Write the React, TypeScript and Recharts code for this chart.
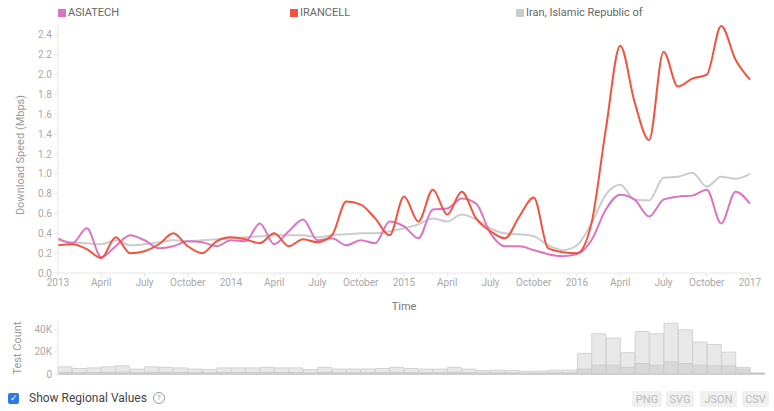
import React from 'react';
import { LineChart, Line, XAxis, YAxis, BarChart, Bar } from 'recharts';

// Month index 0 = January 2013 ... 48 = January 2017
const TICK_MONTHS = [0, 3, 6, 9, 12, 15, 18, 21, 24, 27, 30, 33, 36, 39, 42, 45, 48];
const TICK_LABELS = ['2013', 'April', 'July', 'October', '2014', 'April', 'July', 'October', '2015', 'April', 'July', 'October', '2016', 'April', 'July', 'October', '2017'];
const Y_TICKS = [0, 0.2, 0.4, 0.6, 0.8, 1.0, 1.2, 1.4, 1.6, 1.8, 2.0, 2.2, 2.4];
const COUNT_TICKS = [0, 20000, 40000];

const ASIATECH = [0.35, 0.30, 0.45, 0.16, 0.27, 0.38, 0.33, 0.25, 0.27, 0.32, 0.31, 0.27,
  0.33, 0.32, 0.50, 0.29, 0.42, 0.54, 0.33, 0.35, 0.28, 0.33, 0.30, 0.52,
  0.47, 0.35, 0.64, 0.65, 0.75, 0.70, 0.40, 0.27, 0.27, 0.23, 0.19, 0.17,
  0.19, 0.33, 0.64, 0.79, 0.74, 0.57, 0.74, 0.77, 0.78, 0.84, 0.50, 0.82, 0.70];

const IRANCELL = [0.28, 0.29, 0.24, 0.15, 0.36, 0.20, 0.22, 0.29, 0.40, 0.27, 0.20, 0.32,
  0.36, 0.34, 0.30, 0.40, 0.27, 0.34, 0.31, 0.38, 0.72, 0.69, 0.55, 0.38,
  0.77, 0.52, 0.84, 0.59, 0.82, 0.55, 0.42, 0.35, 0.57, 0.76, 0.25, 0.21,
  0.20, 0.50, 1.45, 2.29, 1.72, 1.34, 2.23, 1.88, 1.96, 2.00, 2.49, 2.15, 1.95];

const IRAN = [0.33, 0.31, 0.30, 0.29, 0.33, 0.28, 0.29, 0.31, 0.33, 0.32, 0.33, 0.34,
  0.35, 0.36, 0.37, 0.38, 0.38, 0.38, 0.36, 0.38, 0.39, 0.40, 0.40, 0.42,
  0.45, 0.49, 0.55, 0.52, 0.59, 0.54, 0.45, 0.40, 0.39, 0.37, 0.28, 0.23,
  0.28, 0.50, 0.79, 0.89, 0.74, 0.73, 0.96, 0.97, 1.01, 0.87, 0.97, 0.95, 1.00];

const TEST_TOTAL = [6500, 5000, 5500, 6500, 7400, 4400, 6500, 6000, 5500, 4500, 4000, 5500,
  5500, 5500, 6000, 5500, 5500, 4000, 6000, 4500, 4500, 4500, 5000, 6000,
  5000, 4400, 4400, 6000, 4400, 3000, 3500, 3000, 2500, 2500, 3500, 3500,
  18700, 36400, 32600, 19300, 38500, 36400, 46000, 40000, 29000, 26700, 19800, 6000, 1000];

const TEST_ISP = [1500, 1300, 1400, 1500, 1700, 1200, 1500, 1500, 1400, 1200, 1100, 1400,
  1400, 1400, 1500, 1400, 1400, 1100, 1500, 1200, 1200, 1200, 1300, 1500,
  1300, 1200, 1200, 1500, 1200, 900, 1000, 900, 800, 800, 1000, 1000,
  4400, 8000, 8000, 6000, 9500, 8000, 11000, 9500, 8000, 7400, 7400, 4400, 500];

const PINK = '#dc74c4';
const RED = '#f2533f';
const GRAY = '#cccccc';

const lineData = ASIATECH.map((v, i) => ({ m: i, asiatech: v, irancell: IRANCELL[i], iran: IRAN[i] }));
const barData = TEST_TOTAL.map((v, i) => ({ m: i + 0.5, total: v, isp: TEST_ISP[i] }));

const FONT = 'Roboto, "Liberation Sans", Arial, sans-serif';
const tickStyle = { fontSize: 10, fill: '#a8a8a8', fontFamily: FONT };

const legendItems = [
  { label: 'ASIATECH', color: PINK, x: 58 },
  { label: 'IRANCELL', color: RED, x: 290 },
  { label: 'Iran, Islamic Republic of', color: GRAY, x: 516 },
];

const buttons = [
  { label: 'PNG', x: 632, w: 30 },
  { label: 'SVG', x: 666, w: 28 },
  { label: 'JSON', x: 700, w: 37 },
  { label: 'CSV', x: 742, w: 27 },
];

export default function App() {
  return (
    <div style={{ position: 'absolute', left: 0, top: 0, width: 774, height: 411, background: '#fff', fontFamily: FONT, overflow: 'hidden' }}>
      {legendItems.map((it) => (
        <div key={it.label} style={{ position: 'absolute', left: it.x, top: 6, display: 'flex', alignItems: 'center', fontSize: 11, color: '#666', whiteSpace: 'nowrap' }}>
          <span style={{ display: 'inline-block', width: 8, height: 8, background: it.color, marginRight: 2 }} />
          <span>{it.label}</span>
        </div>
      ))}

      <div style={{ position: 'absolute', left: 20, top: 155, transform: 'translate(-50%, -50%) rotate(-90deg)', fontSize: 11, color: '#999', whiteSpace: 'nowrap' }}>
        Download Speed (Mbps)
      </div>

      <div style={{ position: 'absolute', left: 0, top: 0 }}>
        <LineChart width={774} height={315} data={lineData} margin={{ top: 25, right: 24, left: 18, bottom: 0 }}>
          <XAxis
            dataKey="m"
            type="number"
            domain={[0, 48]}
            ticks={TICK_MONTHS}
            interval={0}
            tickFormatter={(v: number) => TICK_LABELS[TICK_MONTHS.indexOf(v)]}
            tick={tickStyle}
            tickSize={4}
            axisLine={{ stroke: '#e6e6e6' }}
            tickLine={{ stroke: '#e6e6e6' }}
            height={42}
            label={{ value: 'Time', position: 'insideBottom', offset: 5, style: { fontSize: 11, fill: '#777', fontFamily: FONT } }}
          />
          <YAxis
            type="number"
            domain={[0, 2.5]}
            ticks={Y_TICKS}
            interval={0}
            tickFormatter={(v: number) => v.toFixed(1)}
            tick={tickStyle}
            tickSize={4}
            axisLine={{ stroke: '#e6e6e6' }}
            tickLine={{ stroke: '#e6e6e6' }}
            width={40}
          />
          <Line type="monotone" dataKey="iran" stroke={GRAY} strokeWidth={2} dot={false} isAnimationActive={false} />
          <Line type="monotone" dataKey="asiatech" stroke={PINK} strokeWidth={2} dot={false} isAnimationActive={false} />
          <Line type="monotone" dataKey="irancell" stroke={RED} strokeWidth={2} dot={false} isAnimationActive={false} />
        </LineChart>
      </div>

      <div style={{ position: 'absolute', left: 17, top: 348, transform: 'translate(-50%, -50%) rotate(-90deg)', fontSize: 11, color: '#999', whiteSpace: 'nowrap' }}>
        Test Count
      </div>

      <div style={{ position: 'absolute', left: 0, top: 315 }}>
        <BarChart width={774} height={72} data={barData} margin={{ top: 6, right: 9, left: 18, bottom: 12 }}>
          <XAxis xAxisId="a" dataKey="m" type="number" domain={[0, 49]} tick={false} tickLine={false} height={1} axisLine={{ stroke: '#c4c4c4' }} />
          <XAxis xAxisId="b" dataKey="m" type="number" domain={[0, 49]} hide />
          <YAxis
            type="number"
            domain={[0, 48000]}
            ticks={COUNT_TICKS}
            interval={0}
            tickFormatter={(v: number) => (v === 0 ? '0' : `${v / 1000}K`)}
            tick={tickStyle}
            tickSize={4}
            axisLine={{ stroke: '#e6e6e6' }}
            tickLine={{ stroke: '#e6e6e6' }}
            width={40}
          />
          <Bar xAxisId="a" dataKey="total" fill="#e8e8e8" stroke="#d2d2d2" strokeWidth={1} barSize={14} isAnimationActive={false} />
          <Bar xAxisId="b" dataKey="isp" fill="#d8d8d8" stroke="#cdcdcd" strokeWidth={1} barSize={14} isAnimationActive={false} />
        </BarChart>
      </div>

      <div style={{ position: 'absolute', left: 8, top: 391, display: 'flex', alignItems: 'center', fontSize: 12, color: '#444', whiteSpace: 'nowrap' }}>
        <span style={{ display: 'inline-flex', alignItems: 'center', justifyContent: 'center', width: 11, height: 11, borderRadius: 2, background: '#2c7be5', color: '#fff', fontSize: 9, marginRight: 10, lineHeight: 1 }}>✓</span>
        <span>Show Regional Values</span>
        <span style={{ display: 'inline-flex', alignItems: 'center', justifyContent: 'center', width: 10, height: 10, borderRadius: '50%', border: '1px solid #999', color: '#999', fontSize: 8, marginLeft: 6, lineHeight: 1 }}>?</span>
      </div>

      {buttons.map((b) => (
        <div key={b.label} style={{ position: 'absolute', left: b.x, top: 391, width: b.w, height: 16, background: '#f0f0f0', color: '#bbb', fontSize: 11, display: 'flex', alignItems: 'center', justifyContent: 'center', borderRadius: 2 }}>
          {b.label}
        </div>
      ))}
    </div>
  );
}
